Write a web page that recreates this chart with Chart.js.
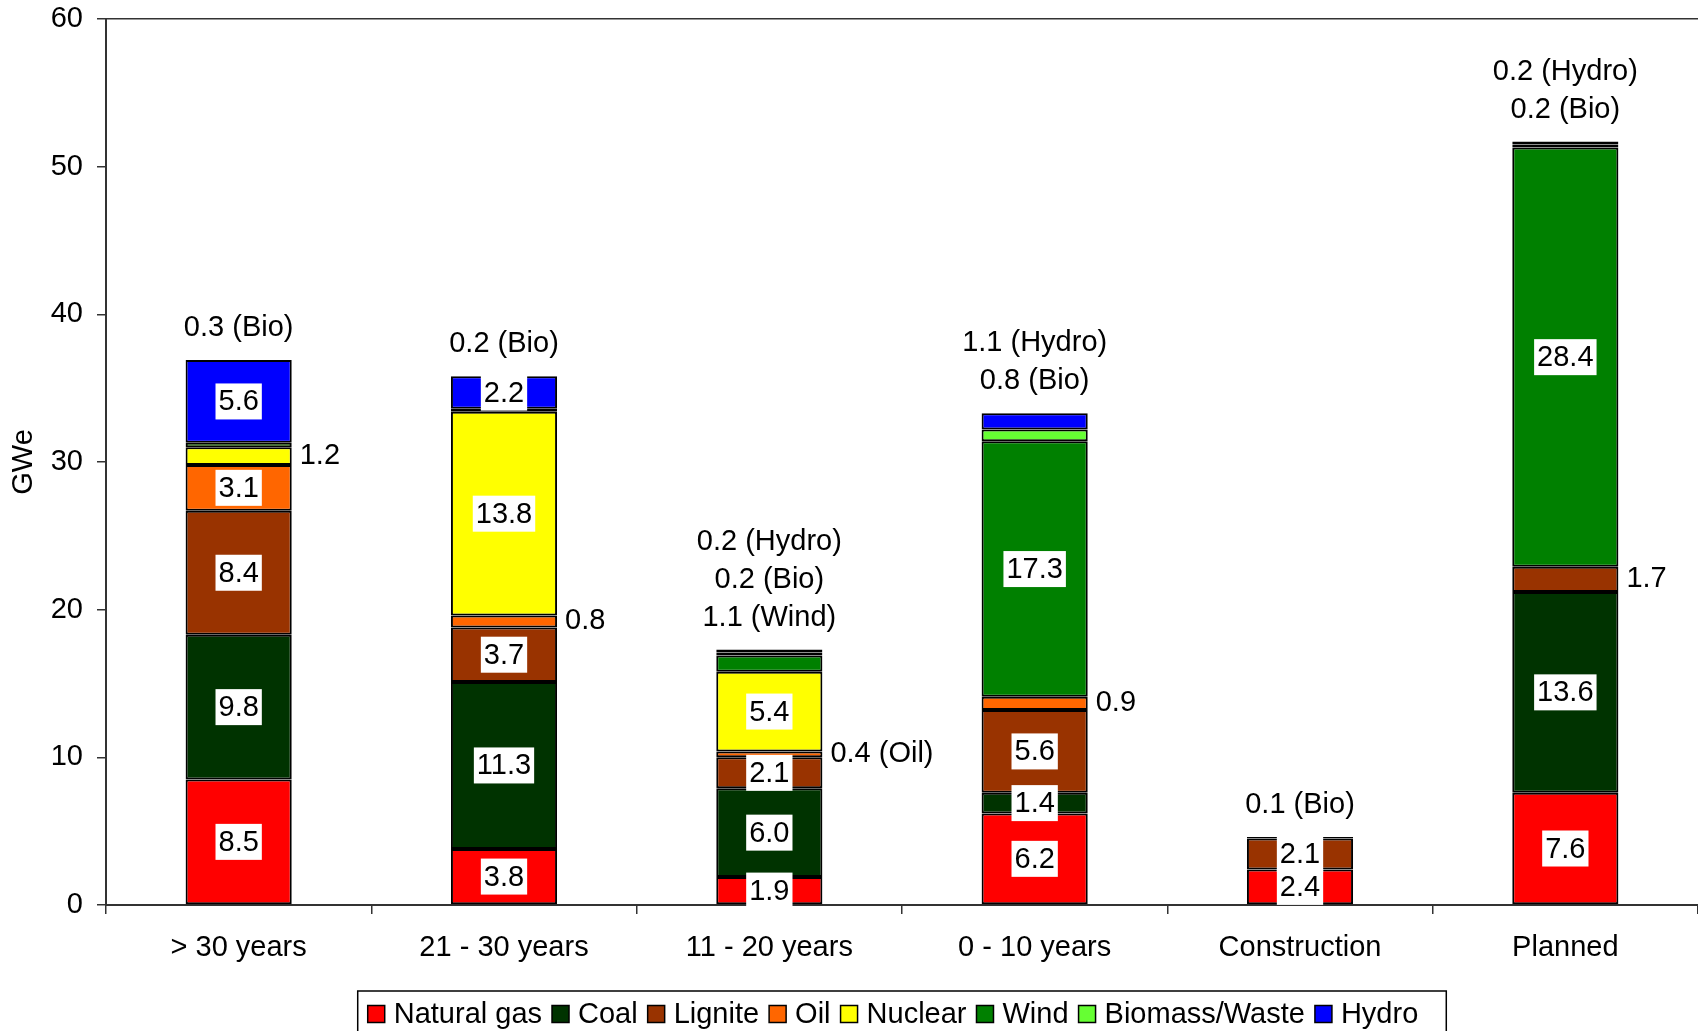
<!DOCTYPE html>
<html>
<head>
<meta charset="utf-8">
<script src="https://cdn.jsdelivr.net/npm/chart.js@4.4.1/dist/chart.umd.min.js"></script>
<style>
  html, body { margin: 0; padding: 0; background: #fff; }
  #wrap { width: 1698px; height: 1031px; position: relative; }
</style>
</head>
<body>
<div id="wrap"><canvas id="capacity"></canvas></div>
<script>
// capacity by plant age, GWe
const categories = ['> 30 years', '21 - 30 years', '11 - 20 years', '0 - 10 years', 'Construction', 'Planned'];
const naturalGas = [8.5, 3.8, 1.9, 6.2, 2.4, 7.6];
const coal       = [9.8, 11.3, 6.0, 1.4, null, 13.6];
const lignite    = [8.4, 3.7, 2.1, 5.6, 2.1, 1.7];
const oil        = [3.1, 0.8, 0.4, 0.9, null, null];
const nuclear    = [1.2, 13.8, 5.4, null, null, null];
const wind       = [null, null, 1.1, 17.3, null, 28.4];
const biomass    = [0.3, 0.2, 0.2, 0.8, 0.1, 0.2];
const hydro      = [5.6, 2.2, 0.2, 1.1, null, 0.2];
const yTicks     = [0, 10, 20, 30, 40, 50, 60];

const FONT = "'Liberation Sans', Arial, sans-serif";
const SIZE = 29;
Chart.defaults.font.family = FONT;
Chart.defaults.color = '#000';

// small values next to the bar instead of inside: [dataset, category, suffix]
const sideLabels = [[4, 0, ''], [3, 1, ''], [3, 2, ' (Oil)'], [3, 3, ''], [2, 5, '']];
// short names used in the notes above the bars
const shortNames = { 5: 'Wind', 6: 'Bio', 7: 'Hydro' };

function ds(label, data, color) {
  return {
    label: label, data: data, backgroundColor: color,
    borderColor: '#000', borderWidth: 2, borderSkipped: false,
    barPercentage: 0.4, categoryPercentage: 1.0
  };
}

const barLabels = {
  id: 'barLabels',
  afterDatasetsDraw(chart) {
    const ctx = chart.ctx;
    const yScale = chart.scales.y;
    ctx.save();
    ctx.font = SIZE + 'px ' + FONT;
    ctx.textBaseline = 'middle';
    const notes = categories.map(() => []);
    chart.data.datasets.forEach((d, i) => {
      const meta = chart.getDatasetMeta(i);
      d.data.forEach((v, j) => {
        if (v === null || v === undefined) return;
        const bar = meta.data[j];
        const txt = v.toFixed(1);
        const midY = (bar.y + bar.base) / 2;
        if (shortNames[i] && v < 2) {
          notes[j].unshift(txt + ' (' + shortNames[i] + ')');
          return;
        }
        const side = sideLabels.find(s => s[0] === i && s[1] === j);
        if (side) {
          ctx.textAlign = 'left';
          ctx.fillStyle = '#000';
          ctx.fillText(txt + side[2], bar.x + bar.width / 2 + 8, midY);
          return;
        }
        const w = ctx.measureText(txt).width + 6;
        const h = 36;
        ctx.fillStyle = '#fff';
        ctx.fillRect(bar.x - w / 2, midY - h / 2, w, h);
        ctx.textAlign = 'center';
        ctx.fillStyle = '#000';
        ctx.fillText(txt, bar.x, midY + 1);
      });
    });
    // notes stacked above each bar, hydro on top
    const xScale = chart.scales.x;
    notes.forEach((lines, j) => {
      if (!lines.length) return;
      let total = 0;
      chart.data.datasets.forEach(d => { total += d.data[j] || 0; });
      const top = yScale.getPixelForValue(total);
      const x = xScale.getPixelForValue(j);
      ctx.textAlign = 'center';
      ctx.fillStyle = '#000';
      lines.forEach((t, k) => {
        ctx.fillText(t, x, top - 32 - (lines.length - 1 - k) * 38);
      });
    });
    ctx.restore();
  }
};

// boxed legend under the axis labels
const boxLegend = {
  id: 'boxLegend',
  afterDraw(chart) {
    const ctx = chart.ctx;
    const area = chart.chartArea;
    ctx.save();
    ctx.font = SIZE + 'px ' + FONT;
    ctx.textBaseline = 'middle';
    ctx.textAlign = 'left';
    const sq = 17, gapText = 9, gapItem = 10, padL = 10, padR = 28;
    const items = chart.data.datasets.map(d => ({ label: d.label, color: d.backgroundColor, w: ctx.measureText(d.label).width }));
    let total = padL + padR;
    items.forEach((it, k) => { total += sq + gapText + it.w + (k < items.length - 1 ? gapItem : 0); });
    const left = (area.left + area.right) / 2 - total / 2;
    const top = chart.height - 40;
    ctx.strokeStyle = '#000';
    ctx.lineWidth = 1.5;
    ctx.strokeRect(left, top, total, 60);
    let x = left + padL;
    const cy = top + 23;
    items.forEach(it => {
      ctx.fillStyle = it.color;
      ctx.fillRect(x, cy - sq / 2, sq, sq);
      ctx.strokeRect(x, cy - sq / 2, sq, sq);
      x += sq + gapText;
      ctx.fillStyle = '#000';
      ctx.fillText(it.label, x, cy + 1);
      x += it.w + gapItem;
    });
    ctx.restore();
  }
};

new Chart(document.getElementById('capacity'), {
  type: 'bar',
  data: {
    labels: categories,
    datasets: [
      ds('Natural gas', naturalGas, '#FF0000'),
      ds('Coal', coal, '#003300'),
      ds('Lignite', lignite, '#993300'),
      ds('Oil', oil, '#FF6600'),
      ds('Nuclear', nuclear, '#FFFF00'),
      ds('Wind', wind, '#008000'),
      ds('Biomass/Waste', biomass, '#66FF33'),
      ds('Hydro', hydro, '#0000FF')
    ]
  },
  options: {
    responsive: true,
    maintainAspectRatio: false,
    animation: false,
    layout: { padding: { top: 19, right: 0, bottom: 66, left: 0 } },
    plugins: { legend: { display: false }, tooltip: { enabled: false } },
    scales: {
      x: {
        stacked: true,
        afterFit(scale) { scale.height = 60; scale.paddingLeft = 0; scale.paddingRight = 0; },
        grid: { offset: true, drawOnChartArea: false, drawTicks: true, tickLength: 9, color: '#333', lineWidth: 1.5 },
        border: { display: true, color: '#333', width: 2 },
        ticks: { font: { size: SIZE }, color: '#000', padding: 17, maxRotation: 0 }
      },
      y: {
        stacked: true,
        min: 0,
        max: 60,
        afterFit(scale) { scale.width = 106; scale.paddingTop = 0; scale.paddingBottom = 0; },
        afterBuildTicks(scale) { scale.ticks = yTicks.map(v => ({ value: v })); },
        grid: {
          color: c => (c.tick && c.tick.value === 60) ? '#333' : 'rgba(0,0,0,0)',
          tickColor: '#333', tickLength: 9, lineWidth: 1.5
        },
        border: { display: true, color: '#333', width: 2 },
        ticks: { font: { size: SIZE }, color: '#000', padding: 14 },
        title: { display: true, text: 'GWe', font: { size: SIZE }, color: '#000', padding: { top: 7, bottom: 0 } }
      }
    }
  },
  plugins: [barLabels, boxLegend]
});
</script>
</body>
</html>
